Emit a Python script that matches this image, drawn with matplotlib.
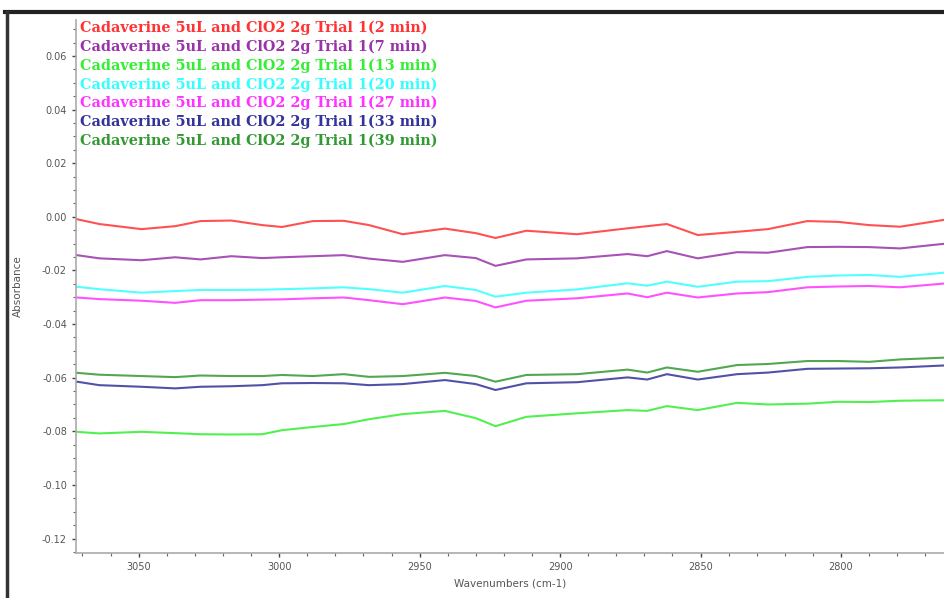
import matplotlib
matplotlib.use("Agg")
import matplotlib.pyplot as plt
from matplotlib.lines import Line2D
from matplotlib.ticker import MultipleLocator

# wavenumbers (cm-1) where values were read
wavenumbers = [3072, 3064, 3049, 3037, 3028, 3017, 3006, 2999, 2988, 2977,
               2968, 2956, 2941, 2930, 2923, 2912, 2894, 2876, 2869, 2862,
               2851, 2837, 2826, 2812, 2801, 2790, 2779, 2760]

trial_2min = [-0.0009, -0.0027, -0.0046, -0.0035, -0.0016, -0.0014, -0.0031, -0.0038, -0.0016, -0.0015,
              -0.0031, -0.0065, -0.0044, -0.0061, -0.0079, -0.0052, -0.0065, -0.0043, -0.0035, -0.0027,
              -0.0068, -0.0056, -0.0046, -0.0016, -0.0019, -0.0031, -0.0037, -0.0006]
trial_7min = [-0.0143, -0.0155, -0.0162, -0.0151, -0.0159, -0.0147, -0.0154, -0.0151, -0.0147, -0.0143,
              -0.0156, -0.0168, -0.0143, -0.0154, -0.0183, -0.0159, -0.0155, -0.0139, -0.0147, -0.0128,
              -0.0155, -0.0132, -0.0134, -0.0113, -0.0112, -0.0113, -0.0118, -0.0097]
trial_13min = [-0.0802, -0.0808, -0.0802, -0.0807, -0.0811, -0.0812, -0.0811, -0.0796, -0.0784, -0.0773,
               -0.0755, -0.0736, -0.0724, -0.0751, -0.0781, -0.0746, -0.0733, -0.0721, -0.0724, -0.0706,
               -0.0721, -0.0694, -0.0700, -0.0697, -0.0690, -0.0691, -0.0686, -0.0684]
trial_20min = [-0.0261, -0.0270, -0.0283, -0.0277, -0.0273, -0.0273, -0.0272, -0.0270, -0.0267, -0.0263,
               -0.0270, -0.0283, -0.0258, -0.0273, -0.0298, -0.0283, -0.0271, -0.0248, -0.0257, -0.0242,
               -0.0261, -0.0242, -0.0240, -0.0224, -0.0219, -0.0217, -0.0224, -0.0205]
trial_27min = [-0.0301, -0.0307, -0.0313, -0.0321, -0.0311, -0.0311, -0.0309, -0.0308, -0.0304, -0.0301,
               -0.0311, -0.0326, -0.0301, -0.0314, -0.0338, -0.0313, -0.0304, -0.0286, -0.0300, -0.0283,
               -0.0301, -0.0286, -0.0281, -0.0263, -0.0260, -0.0258, -0.0263, -0.0246]
trial_33min = [-0.0615, -0.0628, -0.0634, -0.0640, -0.0634, -0.0632, -0.0628, -0.0621, -0.0620, -0.0621,
               -0.0628, -0.0624, -0.0609, -0.0624, -0.0646, -0.0621, -0.0617, -0.0599, -0.0607, -0.0587,
               -0.0607, -0.0587, -0.0581, -0.0567, -0.0566, -0.0565, -0.0562, -0.0553]
trial_39min = [-0.0582, -0.0589, -0.0594, -0.0598, -0.0592, -0.0594, -0.0594, -0.0590, -0.0594, -0.0587,
               -0.0597, -0.0594, -0.0582, -0.0594, -0.0615, -0.0590, -0.0587, -0.0570, -0.0581, -0.0562,
               -0.0578, -0.0553, -0.0549, -0.0538, -0.0538, -0.0541, -0.0532, -0.0524]

labels = ["Cadaverine 5uL and ClO2 2g Trial 1(2 min)",
          "Cadaverine 5uL and ClO2 2g Trial 1(7 min)",
          "Cadaverine 5uL and ClO2 2g Trial 1(13 min)",
          "Cadaverine 5uL and ClO2 2g Trial 1(20 min)",
          "Cadaverine 5uL and ClO2 2g Trial 1(27 min)",
          "Cadaverine 5uL and ClO2 2g Trial 1(33 min)",
          "Cadaverine 5uL and ClO2 2g Trial 1(39 min)"]
series = [trial_2min, trial_7min, trial_13min, trial_20min, trial_27min, trial_33min, trial_39min]
colors = ["#ff3333", "#9933aa", "#33ee33", "#33ffff", "#ff33ff", "#333399", "#339933"]

fig = plt.figure(figsize=(9.44, 5.98), dpi=100)
ax_w = 1 - 76 / 944 + 0.01
ax = fig.add_axes([76 / 944, 1 - 553 / 598, ax_w, (553 - 20) / 598])

for values, c in zip(series, colors):
    ax.plot(wavenumbers, values, color=c, lw=1.5, alpha=0.85)

ax.set_xlim(3072.3, 2760)
ax.set_ylim(-0.1254, 0.0734)
ax.xaxis.set_major_locator(MultipleLocator(50))
ax.xaxis.set_minor_locator(MultipleLocator(10))
ax.yaxis.set_major_locator(MultipleLocator(0.02))
ax.yaxis.set_minor_locator(MultipleLocator(0.005))
ax.yaxis.set_major_formatter(plt.FuncFormatter(lambda v, p: f"{v:.2f}"))

for side in ["top", "right"]:
    ax.spines[side].set_visible(False)
for side in ["left", "bottom"]:
    ax.spines[side].set_color("#aaaaaa")
    ax.spines[side].set_linewidth(1.2)
ax.tick_params(which="major", length=3, width=1, color="#444444", labelsize=7, labelcolor="#555555")
ax.tick_params(which="minor", length=2, width=0.8, color="#666666")

ax.set_ylabel("Absorbance", fontsize=7.5, color="#555555")
ax.yaxis.set_label_coords(-(76 - 23) / (ax_w * 944), 0.5)
ax.set_xlabel("Wavenumbers (cm-1)", fontsize=7.5, color="#555555")
ax.xaxis.set_label_coords((510 - 76) / (ax_w * 944), -26 / 533)

# list of traces in the upper left
for i, (lab, c) in enumerate(zip(labels, colors)):
    fig.text(80 / 944, 1 - (28 + i * 18.8) / 598, lab, color=c, fontsize=10.4,
             fontweight="bold", family="DejaVu Serif", va="center", ha="left")

# window frame
fig.add_artist(Line2D([5 / 944, 1], [1 - 11.5 / 598] * 2, color="#222222", lw=3))
fig.add_artist(Line2D([6.5 / 944] * 2, [0, 1 - 11.5 / 598], color="#333333", lw=2.5))

fig.savefig("out.png", dpi=100)
